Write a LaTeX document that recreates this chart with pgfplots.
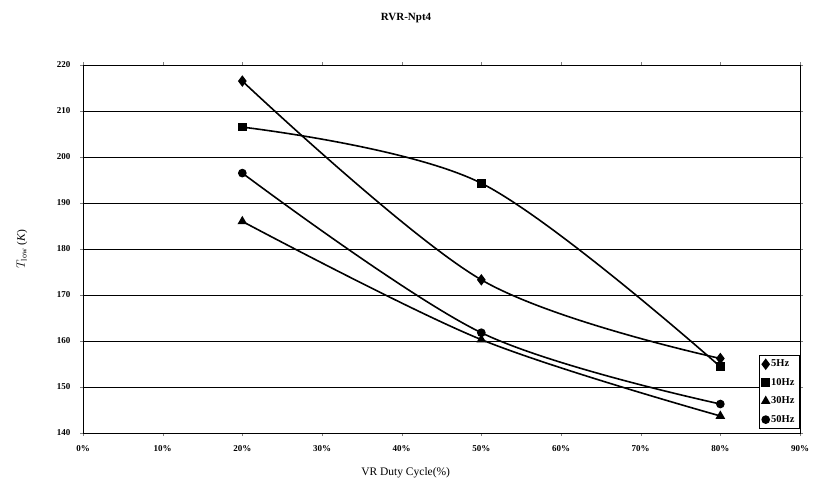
\documentclass[border=0pt]{standalone}
\usepackage{pgfplots}
\pgfplotsset{compat=1.18}
\usepackage{fontspec}
\setmainfont{Liberation Serif}

\begin{document}
\begin{tikzpicture}[x=1pt,y=1pt]
\useasboundingbox (0,0) rectangle (813,498);
\begin{axis}[
  at={(83pt,65pt)}, anchor=south west,
  scale only axis, width=717pt, height=368pt,
  xmin=0, xmax=90, ymin=140, ymax=220,
  xtick={0,10,...,90}, ytick={140,150,...,220},
  xticklabel={\pgfmathprintnumber{\tick}\%},
  /pgf/number format/assume math mode=true,
  tick label style={font=\bfseries\fontsize{9}{10}\selectfont},
  xticklabel style={yshift=-6pt},
  yticklabel style={xshift=-6pt},
  major tick length=3pt, tick align=outside,
  ymajorgrids, major grid style={black, line width=0.9pt},
  axis line style={line width=0.9pt},
  xlabel={VR Duty Cycle(\%)},
  xlabel style={font=\fontsize{11.5}{13}\selectfont, at={(rel axis cs:0.45,-0.109)}, anchor=center},
  ylabel={$T_{\mathrm{low}}$ (\textit{K})},
  ylabel style={font=\fontsize{11.5}{13}\selectfont, at={(rel axis cs:-0.085,0.5)}, anchor=center},
  legend style={at={(rel axis cs:1,0.01)}, anchor=south east,
    font=\bfseries\fontsize{10.5}{12}\selectfont, draw=black, line width=0.9pt,
    row sep=6pt, inner sep=3pt},
  legend cell align=left,
  legend image code/.code={\draw[#1] plot[only marks] coordinates {(0.12cm,0cm)};},
  every axis plot/.append style={black, line width=1.6pt, smooth, tension=0.55},
]
\addplot[mark=diamond*, mark size=4.5pt] coordinates {(20,216.5)(50,173.3)(80,156.2)};
\addlegendentry{5Hz}
\addplot[mark=square*, mark size=3.5pt] coordinates {(20,206.5)(50,194.3)(80,154.4)};
\addlegendentry{10Hz}
\addplot[mark=triangle*, mark size=4pt] coordinates {(20,186.0)(50,160.3)(80,143.7)};
\addlegendentry{30Hz}
\addplot[mark=*, mark size=3.5pt] coordinates {(20,196.5)(50,161.8)(80,146.3)};
\addlegendentry{50Hz}
\end{axis}
\node[font=\bfseries\fontsize{11}{12}\selectfont] at (406,480) {RVR-Npt4};
\end{tikzpicture}
\end{document}
